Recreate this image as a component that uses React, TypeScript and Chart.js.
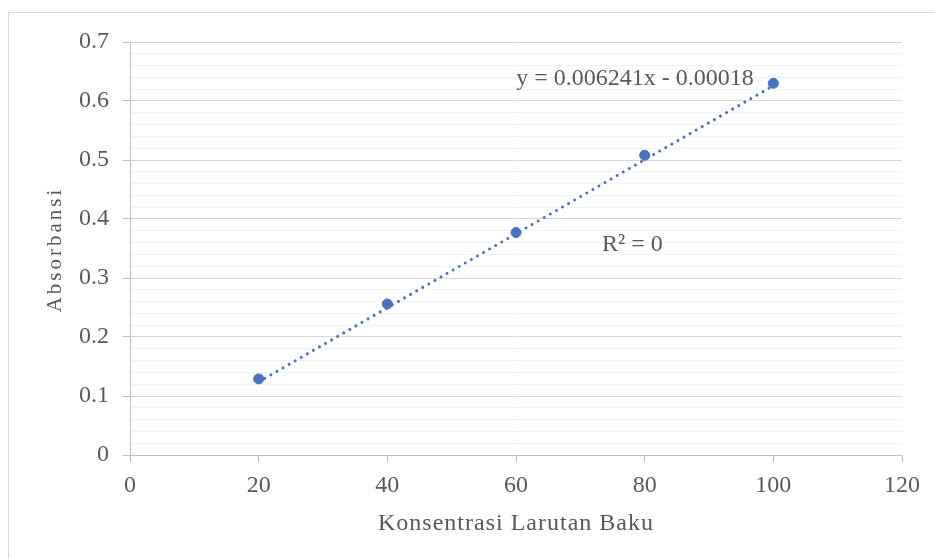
import React, { useEffect, useRef } from "react";
import { Chart, registerables } from "chart.js";

Chart.register(...registerables);

// ---- data ----
const concentrations = [20, 40, 60, 80, 100];
const absorbances = [0.129, 0.256, 0.377, 0.508, 0.63];
const trendX = [20, 100];
const trendY = [0.124, 0.626];
const yTickLabels = ["0", "0.1", "0.2", "0.3", "0.4", "0.5", "0.6", "0.7"];
const xTitle = "Konsentrasi Larutan Baku";
const yTitle = "Absorbansi";
const equationText = "y = 0.006241x - 0.00018";
const rSquaredText = "R² = 0";

const FONT = "'Liberation Serif', 'Times New Roman', serif";
const TEXT_COLOR = "#595959";
const BLUE = "#4472C4";

const decorations = {
  id: "decorations",
  beforeDraw(chart: any) {
    const ctx = chart.ctx;
    ctx.save();
    ctx.strokeStyle = "#d9d9d9";
    ctx.lineWidth = 1;
    ctx.strokeRect(8.5, 12.5, 1200, 1200);
    ctx.restore();
  },
  afterDraw(chart: any) {
    const ctx = chart.ctx;
    const xs = chart.scales.x;
    const ys = chart.scales.y;
    ctx.save();
    ctx.fillStyle = TEXT_COLOR;
    // annotations positioned via scale values
    ctx.font = `24px ${FONT}`;
    ctx.textAlign = "center";
    ctx.textBaseline = "alphabetic";
    ctx.fillText(equationText, xs.getPixelForValue(78.5), ys.getPixelForValue(0.627));
    ctx.fillText(rSquaredText, xs.getPixelForValue(78.1), ys.getPixelForValue(0.345));

    // x-axis title
    (ctx as any).letterSpacing = "1px";
    ctx.font = `24px ${FONT}`;
    ctx.fillText(xTitle, (chart.chartArea.left + chart.chartArea.right) / 2, 530);

    // y-axis title
    ctx.translate(61, (chart.chartArea.top + chart.chartArea.bottom) / 2 + 1);
    ctx.rotate(-Math.PI / 2);
    (ctx as any).letterSpacing = "3px";
    ctx.font = `21px ${FONT}`;
    ctx.fillText(yTitle, 0, 0);
    ctx.restore();
  },
};

export default function App() {
  const canvasRef = useRef<HTMLCanvasElement | null>(null);

  useEffect(() => {
    if (!canvasRef.current) return;
    const chart = new Chart(canvasRef.current, {
      type: "scatter",
      data: {
        datasets: [
          {
            label: "Absorbansi",
            data: concentrations.map((x, i) => ({ x, y: absorbances[i] })),
            backgroundColor: BLUE,
            borderColor: BLUE,
            pointRadius: 5,
            pointHoverRadius: 5,
            order: 0,
          },
          {
            label: "Trend",
            data: trendX.map((x, i) => ({ x, y: trendY[i] })),
            showLine: true,
            borderColor: BLUE,
            borderWidth: 3,
            borderDash: [0.01, 7],
            borderCapStyle: "round",
            pointRadius: 0,
            fill: false,
            order: 1,
          } as any,
        ],
      },
      options: {
        responsive: false,
        animation: false,
        events: [],
        layout: { padding: { left: 0, top: 42, right: 33, bottom: 0 } },
        plugins: {
          legend: { display: false },
          tooltip: { enabled: false },
          title: { display: false },
        },
        scales: {
          x: {
            type: "linear",
            min: 0,
            max: 120,
            afterFit: (s: any) => {
              s.height = 104;
            },
            ticks: {
              stepSize: 20,
              color: TEXT_COLOR,
              font: { family: FONT, size: 24 },
              padding: 9,
              autoSkip: false,
              maxRotation: 0,
            },
            grid: {
              drawOnChartArea: false,
              drawTicks: true,
              tickLength: 7,
              color: "#bfbfbf",
            },
            border: { color: "#bfbfbf", width: 1 },
            title: { display: false },
          },
          y: {
            type: "linear",
            min: 0,
            max: 0.7,
            afterFit: (s: any) => {
              s.width = 130;
            },
            ticks: {
              stepSize: 0.02,
              autoSkip: false,
              color: TEXT_COLOR,
              font: { family: FONT, size: 24 },
              padding: 14,
              callback: (_v: any, i: number) => (i % 5 === 0 ? yTickLabels[i / 5] : ""),
            },
            grid: {
              tickLength: 7,
              color: (c: any) => (c.index % 5 === 0 ? "#d9d9d9" : "#f2f2f2"),
              tickColor: (c: any) => (c.index % 5 === 0 ? "#bfbfbf" : "rgba(0,0,0,0)"),
            },
            border: { color: "#bfbfbf", width: 1 },
            title: { display: false },
          },
        },
      },
      plugins: [decorations],
    });
    return () => chart.destroy();
  }, []);

  return (
    <div style={{ position: "fixed", left: 0, top: 0, width: 935, height: 559, background: "#fff" }}>
      <canvas ref={canvasRef} width={935} height={559} style={{ display: "block" }} />
    </div>
  );
}
